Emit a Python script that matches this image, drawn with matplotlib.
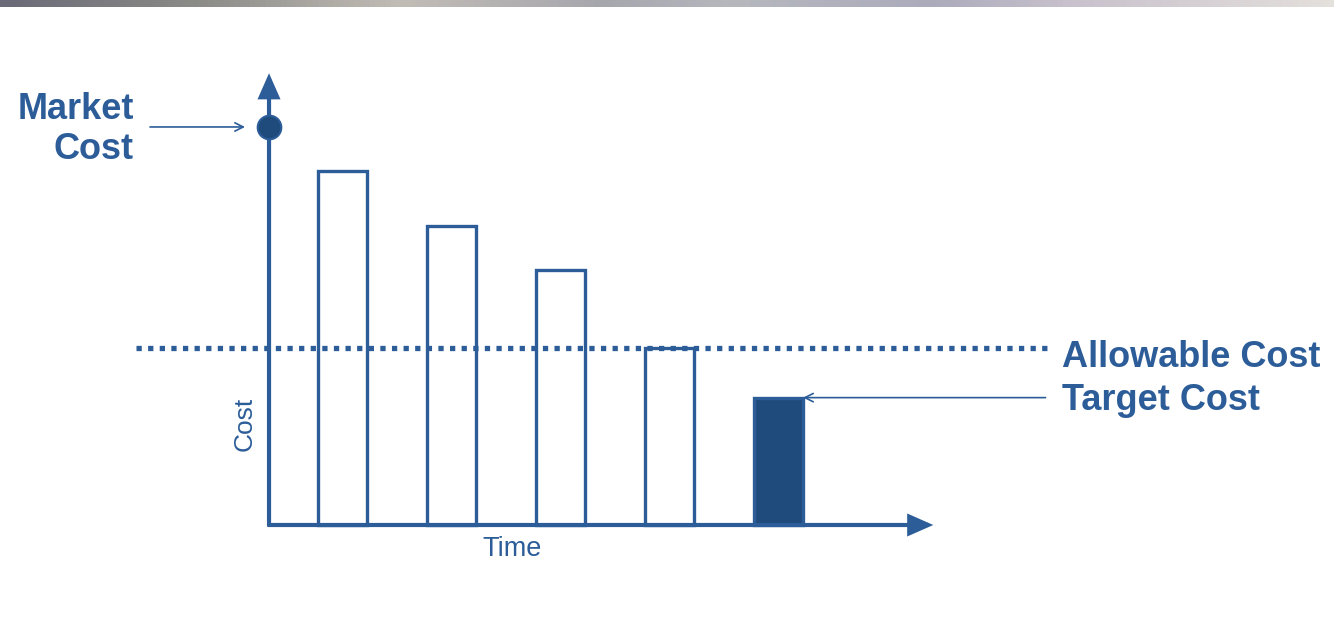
# Target costing chart: market cost -> allowable cost -> target cost
import numpy as np
import matplotlib.pyplot as plt
from matplotlib.colors import LinearSegmentedColormap

market_cost = 100          # market cost (dot on the y axis)
bar_costs = [89, 75, 64, 44.5, 32]   # cost over time
allowable_cost = 44.5      # dotted line
bar_pos = [1, 2, 3, 4, 5]
labels = ["Market\nCost", "Allowable Cost", "Target Cost"]

blue = "#2c5d99"
dark = "#1f4a7c"

plt.rcParams['font.family'] = ['Liberation Sans', 'DejaVu Sans']
fig = plt.figure(figsize=(13.34, 6.21), dpi=100)
ax = fig.add_axes([0, 0, 1, 1])
ax.set_xlim(-2.142, 10.096)
ax.set_ylim(-24.12, 131.9)
ax.axis("off")

x_axis = 0.326   # where the cost axis stands

# bars (last one is the target cost, filled)
colors = ["white"] * 4 + [dark]
ax.bar(bar_pos, bar_costs, width=0.45, color=colors, edgecolor=blue, linewidth=2.4, zorder=3)

# axes with arrows
head = dict(arrowstyle="-|>,head_length=0.68,head_width=0.3", mutation_scale=20,
            color=blue, lw=3, shrinkA=0, shrinkB=0, joinstyle="miter", capstyle="butt")
ax.annotate("", xy=(x_axis, 113.5), xytext=(x_axis, -0.4), arrowprops=head, zorder=4)
ax.annotate("", xy=(6.42, 0), xytext=(x_axis - 0.012, 0), arrowprops=head, zorder=4)

# market cost dot
ax.plot([x_axis], [market_cost], "o", color=dark, markersize=17, markeredgecolor=blue,
        markeredgewidth=1.5, zorder=5)
ax.annotate("", xy=(x_axis - 0.22, market_cost), xytext=(-0.766, market_cost),
            arrowprops=dict(arrowstyle="->,head_length=0.6,head_width=0.3", color=blue,
                            lw=1.2, shrinkA=0, shrinkB=0))
ax.text(-0.913, market_cost - 0.6, labels[0], ha="right", va="center", fontsize=26,
        fontweight="bold", color=blue, linespacing=1.2)

# allowable cost (dotted), drawn over the bars
ax.plot([-0.894, 7.49], [allowable_cost, allowable_cost], color=blue, lw=3.8,
        linestyle=(0, (1, 1.2)), zorder=6)
ax.text(7.6, allowable_cost - 2.3, labels[1], ha="left", va="center", fontsize=26,
        fontweight="bold", color=blue)

# target cost arrow
ax.annotate("", xy=(5.225, bar_costs[-1]), xytext=(7.45, bar_costs[-1]),
            arrowprops=dict(arrowstyle="->,head_length=0.6,head_width=0.3", color=blue,
                            lw=1.2, shrinkA=0, shrinkB=0))
ax.text(7.6, bar_costs[-1] - 0.6, labels[2], ha="left", va="center", fontsize=26,
        fontweight="bold", color=blue)

# axis titles
ax.text(0.106, 25.4, "Cost", rotation=90, ha="center", va="center", fontsize=19, color=blue)
ax.text(2.555, -6.0, "Time", ha="center", va="center", fontsize=19.5, color=blue)

# grey gradient strip at the top
strip = fig.add_axes([0, 1 - 7 / 621, 1, 7 / 621])
cmap = LinearSegmentedColormap.from_list("strip", [
    (0.0, "#6a6a78"), (0.15, "#8c8c88"), (0.3, "#c2bcb6"), (0.45, "#a6a6ad"),
    (0.55, "#b6b8be"), (0.7, "#ababbc"), (0.8, "#c8c0cc"), (1.0, "#e4e0dc")])
strip.imshow(np.linspace(0, 1, 256).reshape(1, -1), aspect="auto", cmap=cmap)
strip.axis("off")

fig.savefig("out.png", dpi=100)
